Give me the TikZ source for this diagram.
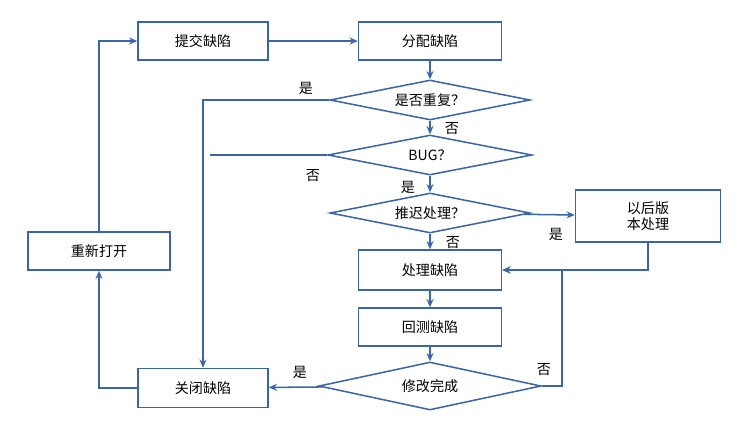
\documentclass[tikz,border=0pt]{standalone}
\usepackage{fontspec}
\setmainfont{Noto Sans CJK SC}
\usetikzlibrary{shapes.geometric, arrows.meta}
\definecolor{flowblue}{HTML}{3A66A8}
\tikzset{
>={Stealth[length=7pt,width=6pt]},
link/.style={->, draw=flowblue, line width=1.3pt},
box/.style={rectangle, draw=flowblue, line width=1.3pt, fill=white, font=\large, align=center},
check/.style={diamond, draw=flowblue, line width=1.3pt, fill=white, inner sep=0pt,
  label={[font=\large]center:#1}},
lab/.style={font=\large, text=black},
}
\begin{document}
\begin{tikzpicture}[x=0.03cm, y=-0.03cm]
\useasboundingbox (0,0) rectangle (754,441);

\node[box, minimum width=130*0.03cm, minimum height=38*0.03cm] (submit) at (203,41) {提交缺陷};
\node[box, minimum width=143*0.03cm, minimum height=38*0.03cm] (assign) at (430,41) {分配缺陷};
\node[check=是否重复？, minimum width=200*0.03cm, minimum height=40*0.03cm] (dup) at (430,100) {};
\node[check=BUG？, minimum width=204*0.03cm, minimum height=40*0.03cm] (bug) at (430,155) {};
\node[check=推迟处理？, minimum width=200*0.03cm, minimum height=40*0.03cm] (defer) at (430,213) {};
\node[box, minimum width=145*0.03cm, minimum height=52*0.03cm] (later) at (648,216) {以后版\\本处理};
\node[box, minimum width=143*0.03cm, minimum height=40*0.03cm] (fix) at (430,270) {处理缺陷};
\node[box, minimum width=143*0.03cm, minimum height=38*0.03cm] (retest) at (430,327) {回测缺陷};
\node[check=修改完成, minimum width=222*0.03cm, minimum height=48*0.03cm] (done) at (430,386) {};
\node[box, minimum width=130*0.03cm, minimum height=39*0.03cm] (close) at (203,388) {关闭缺陷};
\node[box, minimum width=142*0.03cm, minimum height=38*0.03cm] (reopen) at (99,251) {重新打开};

\coordinate (merge) at (210,155);

\draw[link] (reopen.north) |- (submit.west);
\draw[link] (submit) -- (assign);
\draw[link] (assign) -- (dup);
\draw[link] (dup) -- (bug);
\draw[link] (bug) -- (defer);
\draw[link] (defer) -- (fix);
\draw[link] (fix) -- (retest);
\draw[link] (retest) -- (done);
\draw[link] (defer) -- (later);
\draw[link] (later.south) |- (fix.east);
\draw[link] (done.east) -| (562,270) -- (fix.east);
\draw[link] (done) -- (close);
\draw[link] (dup.west) -| (close.north);
\draw[link, -] (bug.west) -- (merge);
\draw[link] (close.west) -| (reopen.south);

\node[lab] (l1) at (306,88) {是};
\node[lab] (l2) at (452,129) {否};
\node[lab] (l3) at (313,176) {否};
\node[lab] (l4) at (408,187) {是};
\node[lab] (l5) at (556,234) {是};
\node[lab] (l6) at (453,243) {否};
\node[lab] (l7) at (544,370) {否};
\node[lab] (l8) at (300,372) {是};
\end{tikzpicture}
\end{document}
